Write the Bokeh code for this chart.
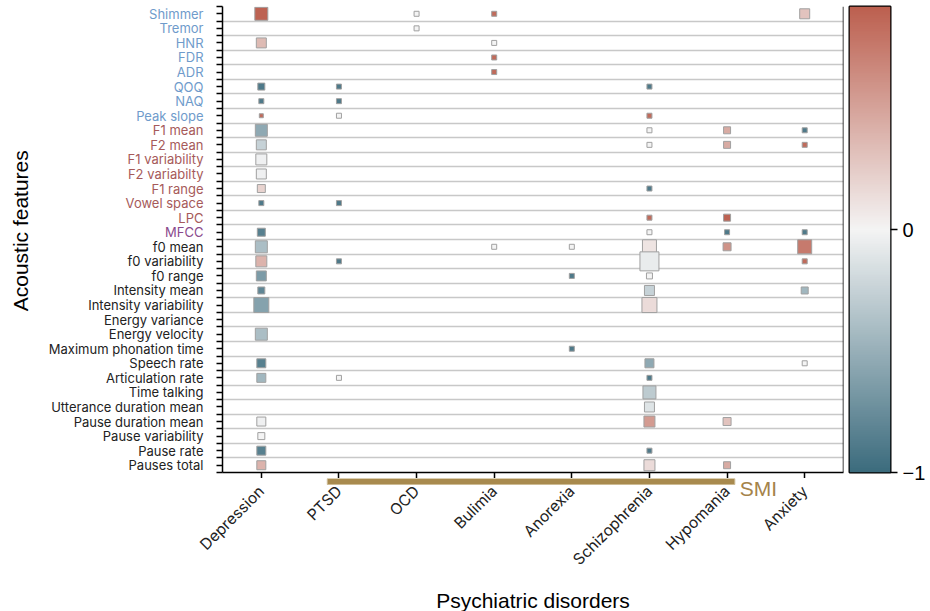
import math
import numpy as np
from bokeh.plotting import figure
from bokeh.layouts import row, column
from bokeh.models import (FixedTicker, LinearColorMapper, ColumnDataSource, Span, Range1d)
from bokeh.core.properties import value
from bokeh.embed import file_html
from bokeh.resources import INLINE

# ---------------- data ----------------
disorders = ["Depression", "PTSD", "OCD", "Bulimia", "Anorexia",
             "Schizophrenia", "Hypomania", "Anxiety"]

features = ["Shimmer", "Tremor", "HNR", "FDR", "ADR", "QOQ", "NAQ", "Peak slope",
            "F1 mean", "F2 mean", "F1 variability", "F2 variabilty", "F1 range",
            "Vowel space", "LPC", "MFCC",
            "f0 mean", "f0 variability", "f0 range", "Intensity mean",
            "Intensity variability", "Energy variance", "Energy velocity",
            "Maximum phonation time", "Speech rate", "Articulation rate",
            "Time talking", "Utterance duration mean", "Pause duration mean",
            "Pause variability", "Pause rate", "Pauses total"]

feature_groups = (["voice"] * 8 + ["formant"] * 7 + ["spectral"] + ["prosody"] * 16)

# (effect value, cell magnitude) per feature, for each disorder
depression = {
    "Shimmer": (0.9, 13), "HNR": (0.35, 10), "QOQ": (-0.9, 7), "NAQ": (-0.9, 5),
    "Peak slope": (0.85, 4), "F1 mean": (-0.55, 12), "F2 mean": (-0.25, 10),
    "F1 variability": (-0.03, 11), "F2 variabilty": (-0.03, 10), "F1 range": (0.2, 8),
    "Vowel space": (-0.9, 5), "MFCC": (-0.85, 8), "f0 mean": (-0.4, 12),
    "f0 variability": (0.4, 11), "f0 range": (-0.65, 10), "Intensity mean": (-0.8, 7),
    "Intensity variability": (-0.6, 15), "Energy velocity": (-0.4, 12),
    "Speech rate": (-0.85, 9), "Articulation rate": (-0.45, 9),
    "Pause duration mean": (-0.03, 9), "Pause variability": (0.0, 7),
    "Pause rate": (-0.85, 9), "Pauses total": (0.4, 9),
}
ptsd = {
    "QOQ": (-0.9, 5), "NAQ": (-0.9, 5), "Peak slope": (0.0, 5), "Vowel space": (-0.9, 5),
    "f0 variability": (-0.9, 5), "Articulation rate": (0.0, 5),
}
ocd = {"Shimmer": (0.0, 5), "Tremor": (0.0, 5)}
bulimia = {
    "Shimmer": (0.85, 5), "HNR": (0.0, 5), "FDR": (0.85, 5), "ADR": (0.85, 5),
    "f0 mean": (0.0, 5),
}
anorexia = {"f0 mean": (0.0, 5), "f0 range": (-0.9, 5), "Maximum phonation time": (-0.9, 5)}
schizophrenia = {
    "QOQ": (-0.9, 5), "Peak slope": (0.85, 5), "F1 mean": (0.0, 5), "F2 mean": (0.0, 5),
    "F1 range": (-0.9, 5), "LPC": (0.85, 5), "MFCC": (0.0, 5), "f0 mean": (0.1, 14),
    "f0 variability": (-0.06, 19), "f0 range": (0.0, 6), "Intensity mean": (-0.25, 10),
    "Intensity variability": (0.15, 15), "Speech rate": (-0.55, 9),
    "Articulation rate": (-0.9, 5), "Time talking": (-0.3, 13),
    "Utterance duration mean": (-0.12, 10), "Pause duration mean": (0.55, 11),
    "Pause rate": (-0.9, 5), "Pauses total": (0.15, 11),
}
hypomania = {
    "F1 mean": (0.45, 7), "F2 mean": (0.45, 7), "LPC": (0.9, 7), "MFCC": (-0.9, 5),
    "f0 mean": (0.6, 8), "Pause duration mean": (0.3, 8), "Pauses total": (0.45, 7),
}
anxiety = {
    "Shimmer": (0.3, 10), "F1 mean": (-0.9, 5), "F2 mean": (0.85, 5), "MFCC": (-0.9, 5),
    "f0 mean": (0.75, 14), "f0 variability": (0.85, 5), "Intensity mean": (-0.45, 7),
    "Speech rate": (0.0, 5),
}
disorder_cells = [depression, ptsd, ocd, bulimia, anorexia, schizophrenia, hypomania, anxiety]

smi_span = ("PTSD", "Hypomania")
smi_label = "SMI"
colorbar_low, colorbar_high = -1.0, 0.92
colorbar_ticks = [-1, 0]

# ---------------- styling ----------------
group_colors = {"voice": "#6f9bcb", "formant": "#a65a5a", "spectral": "#8a4a8c", "prosody": "#222222"}
LOW_RGB, MID_RGB, HIGH_RGB = (59, 107, 125), (244, 244, 244), (183, 82, 64)
LABEL_FONT = "Inter"
TITLE_FONT = "Liberation Sans"

FRAME_W, FRAME_H = 621, 466
TOP = 6
LEFT_PANEL_W = 208
AXIS_PAD = 14
SMI_H = 20


def to_color(v):
    if v < 0:
        end, t = LOW_RGB, min(1.0, -v)
    else:
        end, t = HIGH_RGB, min(1.0, v)
    rgb = [round(MID_RGB[i] + (end[i] - MID_RGB[i]) * t) for i in range(3)]
    return "#%02x%02x%02x" % tuple(rgb)


N = 256
palette = [to_color(colorbar_low + (colorbar_high - colorbar_low) * (i + 0.5) / N) for i in range(N)]
mapper = LinearColorMapper(palette=palette, low=colorbar_low, high=colorbar_high)

xs, ys, vals, sizes = [], [], [], []
for di, cells in enumerate(disorder_cells):
    for feat, (v, s) in cells.items():
        xs.append(di)
        ys.append(features.index(feat))
        vals.append(v)
        sizes.append(s)
src = ColumnDataSource(dict(x=xs, y=ys, value=vals, size=sizes))

nrow = len(features)
ncol = len(disorders)
x_range = Range1d(-0.5, ncol - 0.5)
y_range = Range1d(nrow - 0.5, -0.5)

# ---------------- main plot ----------------
p = figure(frame_width=FRAME_W, frame_height=FRAME_H, output_backend="svg", toolbar_location=None,
           x_range=x_range, y_range=y_range,
           min_border_left=AXIS_PAD, min_border_top=TOP, min_border_right=2, min_border_bottom=0)
p.outline_line_color = None
p.background_fill_color = "white"

p.xgrid.visible = False
p.ygrid.ticker = FixedTicker(ticks=[i - 0.5 for i in range(nrow + 1)])
p.ygrid.grid_line_color = "#c8c8c8"
p.ygrid.grid_line_width = 1.5

yax = p.yaxis[0]
yax.ticker = FixedTicker(ticks=list(range(nrow)), minor_ticks=[i - 0.5 for i in range(nrow + 1)])
yax.major_label_overrides = {i: "" for i in range(nrow)}
yax.major_label_text_font_size = "0px"
yax.major_label_standoff = 0
yax.major_tick_out = 6
yax.major_tick_in = 0
yax.minor_tick_out = 6
yax.minor_tick_in = 0
yax.axis_line_width = 1.5
yax.major_tick_line_width = 1.5
yax.minor_tick_line_width = 1.5

xax = p.xaxis[0]
xax.ticker = FixedTicker(ticks=list(range(ncol)), minor_ticks=[])
xax.major_label_overrides = {i: "" for i in range(ncol)}
xax.major_label_text_font_size = "0px"
xax.major_label_standoff = 0
xax.major_tick_out = 6
xax.major_tick_in = 0
xax.axis_line_width = 1.5
xax.major_tick_line_width = 1.5

p.add_layout(Span(location=ncol - 0.5, dimension="height", line_color="black", line_width=1.5))

p.scatter("x", "y", size="size", marker="square", source=src,
          fill_color={"field": "value", "transform": mapper},
          line_color="#a0a0a0", line_width=1)

# ---------------- colour bar panel ----------------
cbp = figure(frame_width=41, frame_height=FRAME_H, output_backend="svg", toolbar_location=None,
             x_range=Range1d(0, 1), y_range=Range1d(colorbar_low, colorbar_high),
             y_axis_location="right",
             min_border_left=4, min_border_top=TOP, min_border_right=0, min_border_bottom=14)
cbp.image(image=[np.linspace(colorbar_low, colorbar_high, N).reshape(N, 1)],
          x=0, y=colorbar_low, dw=1, dh=colorbar_high - colorbar_low, color_mapper=mapper)
cbp.outline_line_color = "black"
cbp.outline_line_width = 2
cbp.xaxis.visible = False
cbp.grid.visible = False
cax = cbp.yaxis[0]
cax.ticker = FixedTicker(ticks=colorbar_ticks, minor_ticks=[])
cax.major_label_overrides = {-1: "\u22121", 0: "0"}
cax.major_label_text_font = TITLE_FONT
cax.major_label_text_font_size = "20px"
cax.major_label_text_color = "black"
cax.major_label_standoff = 5
cax.axis_line_color = None
cax.major_tick_in = 0
cax.major_tick_out = 7
cax.major_tick_line_width = 1.5

# ---------------- left label panel ----------------
lp = figure(frame_width=LEFT_PANEL_W, frame_height=FRAME_H, output_backend="svg", toolbar_location=None,
            x_range=Range1d(0, LEFT_PANEL_W), y_range=y_range,
            min_border_left=0, min_border_top=TOP, min_border_right=0, min_border_bottom=0)
lp.outline_line_color = None
lp.axis.visible = False
lp.grid.visible = False
lab_src = ColumnDataSource(dict(x=[LEFT_PANEL_W - 5] * nrow, y=list(range(nrow)), text=features,
                                color=[group_colors[g] for g in feature_groups]))
lp.text(x="x", y="y", text="text", source=lab_src, text_align="right", text_baseline="middle",
        text_font=value(LABEL_FONT), text_font_size="13px", text_color="color")
lp.text(x=[20], y=[(nrow - 1) / 2 - 0.6], text=["Acoustic features"], angle=math.pi / 2,
        text_align="center", text_baseline="middle",
        text_font=value(TITLE_FONT), text_font_size="21px", text_color="black")

# ---------------- bottom panel: SMI bracket + disorder axis ----------------
bp = figure(frame_width=FRAME_W, frame_height=SMI_H, output_backend="svg", toolbar_location=None,
            x_range=x_range, y_range=Range1d(-SMI_H, 0),
            min_border_left=LEFT_PANEL_W + AXIS_PAD, min_border_top=0, min_border_right=0,
            min_border_bottom=0)
bp.outline_line_color = None
bp.yaxis.visible = False
bp.grid.visible = False

x0 = disorders.index(smi_span[0]) - 0.15
x1 = disorders.index(smi_span[1]) + 0.1
bp.quad(left=[x0], right=[x1], top=[0], bottom=[-6],
        fill_color="#a88a4e", line_color="#cdbb94", line_width=1)
bp.text(x=[x1], y=[-10], text=[smi_label], x_offset=5, text_align="left", text_baseline="middle",
        text_font=value(TITLE_FONT), text_font_size="21px", text_color="#a5834a")

bax = bp.xaxis[0]
bax.ticker = FixedTicker(ticks=list(range(ncol)), minor_ticks=[])
bax.major_label_overrides = {i: d for i, d in enumerate(disorders)}
bax.major_label_orientation = math.pi / 4
bax.major_label_text_font = LABEL_FONT
bax.major_label_text_font_size = "15.5px"
bax.major_label_text_color = "#222222"
bax.major_label_standoff = -10
bax.axis_line_color = None
bax.major_tick_line_color = None
bax.major_tick_out = 0
bax.major_tick_in = 0
bax.axis_label = "Psychiatric disorders"
bax.axis_label_text_font = TITLE_FONT
bax.axis_label_text_font_size = "21px"
bax.axis_label_text_font_style = "normal"
bax.axis_label_text_color = "black"
bax.axis_label_standoff = 10

layout = row(column(row(lp, p), bp), cbp)
open("out.html", "w").write(file_html(layout, INLINE))
